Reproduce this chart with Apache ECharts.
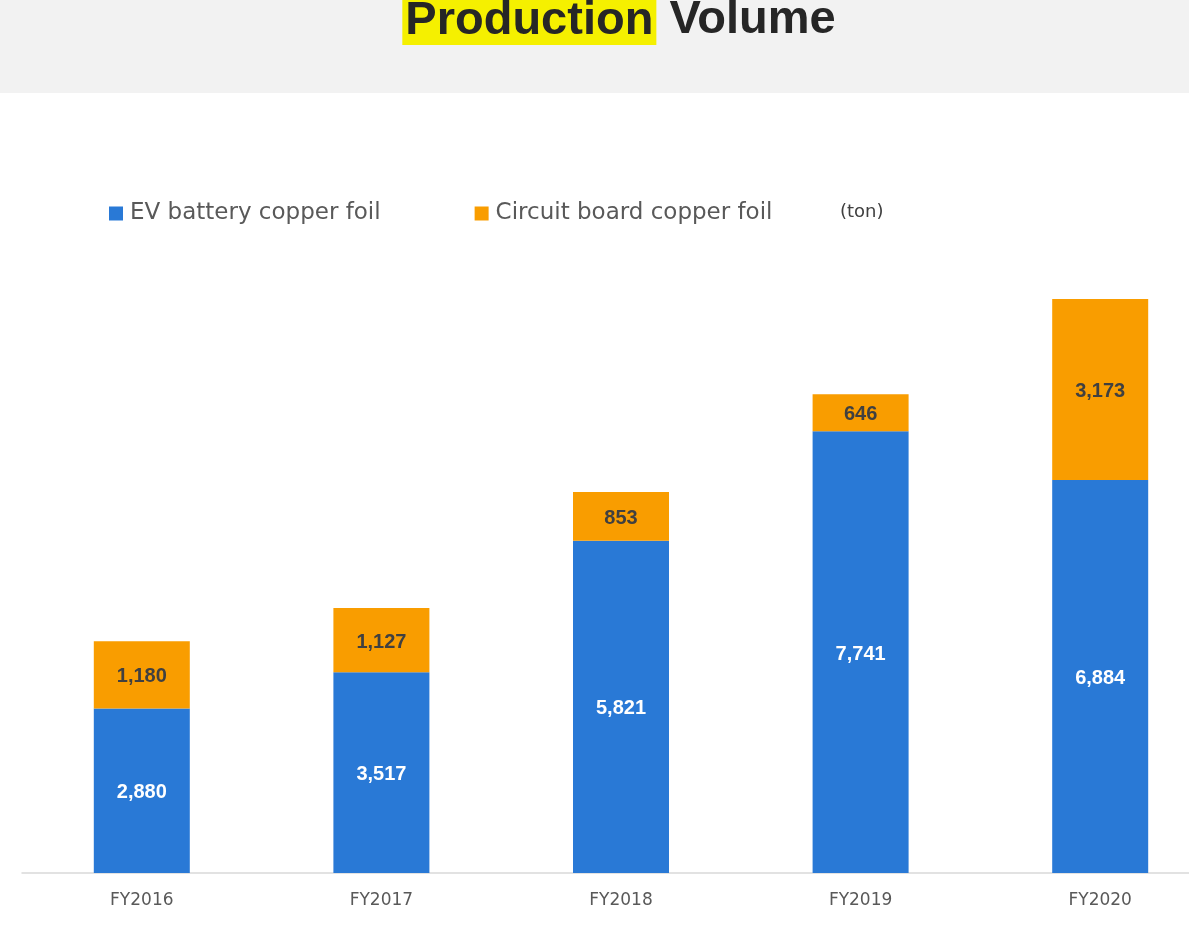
<!DOCTYPE html>
<html><head><meta charset="utf-8">
<script src="https://cdn.jsdelivr.net/npm/echarts@6/dist/echarts.min.js"></script>
<style>html,body{margin:0;padding:0;overflow:hidden;background:#fff;}#c{width:1220px;height:945px;}</style>
</head><body><div id="c"></div>
<script>
const categories = ['FY2016','FY2017','FY2018','FY2019','FY2020'];
const evBattery = [2880, 3517, 5821, 7741, 6884];
const circuitBoard = [1180, 1127, 853, 646, 3173];
const seriesNames = ['EV battery copper foil', 'Circuit board copper foil'];
const unitLabel = '(ton)';

const chart = echarts.init(document.getElementById('c'));
const fmt = p => p.value.toLocaleString('en-US');
chart.setOption({
  backgroundColor: '#ffffff',
  animation: false,
  graphic: [
    { type: 'rect', left: 0, top: 0, shape: { width: 1220, height: 93 }, style: { fill: '#f2f2f2' }, z: 0 },
    { type: 'text', left: 840, top: 203, style: { text: unitLabel, fontSize: 18, fontFamily: 'DejaVu Sans', fill: '#404040' } }
  ],
  title: {
    text: '{hl|Production} Volume',
    left: 614, top: -9, textAlign: 'center',
    textStyle: {
      fontSize: 47, fontWeight: 'bold', fontFamily: 'Liberation Sans', color: '#262626',
      rich: { hl: { fontSize: 47, fontWeight: 'bold', fontFamily: 'Liberation Sans', color: '#262626', backgroundColor: '#f5f000', padding: [2, 3, 0, 3] } }
    }
  },
  legend: {
    left: 104, top: 197, itemWidth: 14, itemHeight: 14, itemGap: 94, icon: 'rect',
    textStyle: { fontSize: 23, fontFamily: 'DejaVu Sans', color: '#595959', padding: [0, 0, 0, 2] },
    data: seriesNames
  },
  grid: { left: 22, right: 0, top: 873 - 10500 * 0.05708, bottom: 945 - 873 },
  xAxis: {
    type: 'category', data: categories,
    axisLine: { lineStyle: { color: '#d9d9d9', width: 1.5 } },
    axisTick: { show: false },
    axisLabel: { fontSize: 17, fontFamily: 'DejaVu Sans', color: '#595959', margin: 19 }
  },
  yAxis: { type: 'value', min: 0, max: 10500, show: false, splitLine: { show: false } },
  series: [
    { name: seriesNames[0], type: 'bar', stack: 'a', barWidth: 96, data: evBattery,
      itemStyle: { color: '#2979d6' },
      label: { show: true, position: 'inside', offset: [0, 2], formatter: fmt, color: '#ffffff', fontSize: 20, fontWeight: 'bold', fontFamily: 'Liberation Sans' } },
    { name: seriesNames[1], type: 'bar', stack: 'a', barWidth: 96, data: circuitBoard,
      itemStyle: { color: '#f99d00' },
      label: { show: true, position: 'inside', offset: [0, 2], formatter: fmt, color: '#404040', fontSize: 20, fontWeight: 'bold', fontFamily: 'Liberation Sans' } }
  ]
});
</script></body></html>
